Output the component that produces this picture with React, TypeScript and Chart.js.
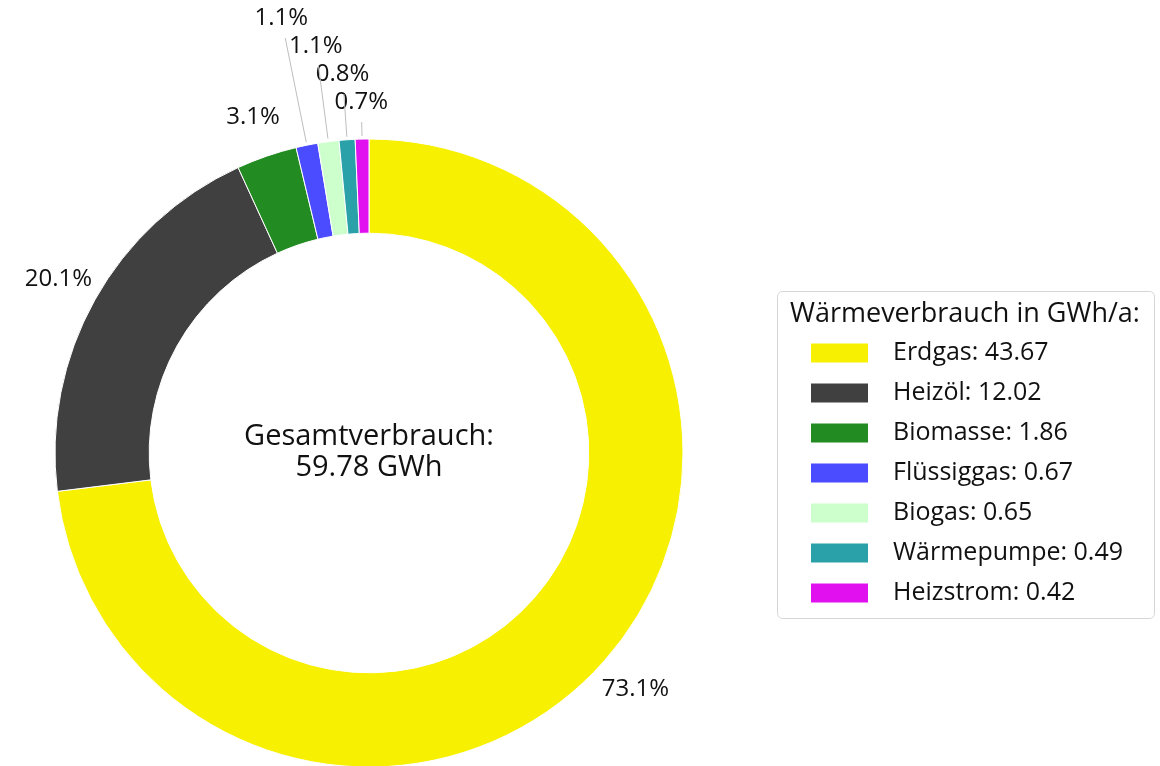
import { useEffect, useRef } from "react";
import { Chart, registerables } from "chart.js";

Chart.register(...registerables);

const categories = ["Erdgas", "Heizöl", "Biomasse", "Flüssiggas", "Biogas", "Wärmepumpe", "Heizstrom"];
const values = [43.67, 12.02, 1.86, 0.67, 0.65, 0.49, 0.42];
const colors = ["#F7F000", "#404040", "#228B22", "#4B4BFF", "#CCFFCC", "#2AA1A8", "#E011EE"];
const legendTitle = "Wärmeverbrauch in GWh/a:";
const centerLines = ["Gesamtverbrauch:", "59.78 GWh"];

const FAMILY = "'Open Sans', 'Noto Sans', sans-serif";
const LABEL_FONT = `24px ${FAMILY}`;
const LEGEND_FONT = `25px ${FAMILY}`;
const TITLE_FONT = `27px ${FAMILY}`;
const CENTER_FONT = `29px ${FAMILY}`;

const labelPlugin = {
  id: "outerLabels",
  afterDatasetsDraw(chart: any) {
    const ctx = chart.ctx as CanvasRenderingContext2D;
    const meta = chart.getDatasetMeta(0);
    const data = chart.data.datasets[0].data as number[];
    const total = data.reduce((a, b) => a + b, 0);
    ctx.save();
    ctx.font = LABEL_FONT;
    ctx.fillStyle = "#111";
    ctx.textAlign = "center";
    ctx.textBaseline = "middle";
    let prevY = Infinity;
    for (let i = meta.data.length - 1; i >= 0; i--) {
      const arc = meta.data[i];
      const { x: cx, y: cy, startAngle, endAngle, outerRadius } = arc.getProps(
        ["x", "y", "startAngle", "endAngle", "outerRadius"],
        true
      );
      const mid = (startAngle + endAngle) / 2;
      const frac = data[i] / total;
      const txt = (frac * 100).toFixed(1) + "%";
      if (frac < 0.02) {
        const r0 = outerRadius * 1.118;
        const defY = cy + Math.sin(mid) * r0;
        const y = Math.min(defY, prevY - 28);
        prevY = y;
        const t = (y - cy) / Math.sin(mid);
        const x = cx + Math.cos(mid) * t;
        const tl = (y + 20 - cy) / Math.sin(mid);
        ctx.strokeStyle = "#bdbdbd";
        ctx.lineWidth = 1;
        ctx.beginPath();
        ctx.moveTo(cx + Math.cos(mid) * (outerRadius + 3), cy + Math.sin(mid) * (outerRadius + 3));
        ctx.lineTo(cx + Math.cos(mid) * tl, cy + Math.sin(mid) * tl);
        ctx.stroke();
        ctx.fillText(txt, x, y);
      } else {
        const r = outerRadius * 1.133;
        const x = cx + Math.cos(mid) * r;
        const y = cy + Math.sin(mid) * r;
        prevY = Math.min(prevY, y);
        ctx.fillText(txt, x, y);
      }
    }
    // center text
    const a0 = meta.data[0];
    ctx.font = CENTER_FONT;
    ctx.fillText(centerLines[0], a0.x, a0.y - 16);
    ctx.fillText(centerLines[1], a0.x, a0.y + 15);
    ctx.restore();
  },
};

const legendPlugin = {
  id: "boxLegend",
  afterDraw(chart: any) {
    const ctx = chart.ctx as CanvasRenderingContext2D;
    const left = 777.5, top = 291.5, right = 1154.5, bottom = 618.5, rad = 5;
    ctx.save();
    ctx.strokeStyle = "#d6d6d6";
    ctx.lineWidth = 1;
    ctx.beginPath();
    ctx.moveTo(left + rad, top);
    ctx.arcTo(right, top, right, bottom, rad);
    ctx.arcTo(right, bottom, left, bottom, rad);
    ctx.arcTo(left, bottom, left, top, rad);
    ctx.arcTo(left, top, right, top, rad);
    ctx.closePath();
    ctx.stroke();
    ctx.font = TITLE_FONT;
    ctx.fillStyle = "#111";
    ctx.textAlign = "left";
    ctx.textBaseline = "middle";
    ctx.fillText(legendTitle, 790, 314);
    ctx.font = LEGEND_FONT;
    const ds = chart.data.datasets[0];
    chart.data.labels.forEach((lab: string, i: number) => {
      const y = 353 + 40 * i;
      ctx.fillStyle = ds.backgroundColor[i];
      ctx.fillRect(811, y - 9.5, 57, 19);
      ctx.fillStyle = "#111";
      ctx.fillText(`${lab}: ${ds.data[i].toFixed(2)}`, 893, y);
    });
    ctx.restore();
  },
};

export default function App() {
  const ref = useRef<HTMLCanvasElement | null>(null);
  useEffect(() => {
    if (!ref.current) return;
    const chart = new Chart(ref.current, {
      type: "doughnut",
      data: {
        labels: categories,
        datasets: [
          {
            data: values,
            backgroundColor: colors,
            borderColor: "#ffffff",
            borderWidth: 1,
            clip: false as any,
          },
        ],
      },
      options: {
        responsive: false,
        animation: false,
        devicePixelRatio: 1,
        radius: 314,
        cutout: "70%",
        layout: { padding: { left: 0, right: 422, top: 140, bottom: 0 } },
        plugins: {
          legend: { display: false },
          tooltip: { enabled: false },
        },
      },
      plugins: [labelPlugin, legendPlugin],
    });
    return () => chart.destroy();
  }, []);
  return (
    <div style={{ position: "fixed", left: 0, top: 0, width: 1160, height: 766, background: "#fff" }}>
      <canvas ref={ref} width={1160} height={766} style={{ width: 1160, height: 766 }} />
    </div>
  );
}
